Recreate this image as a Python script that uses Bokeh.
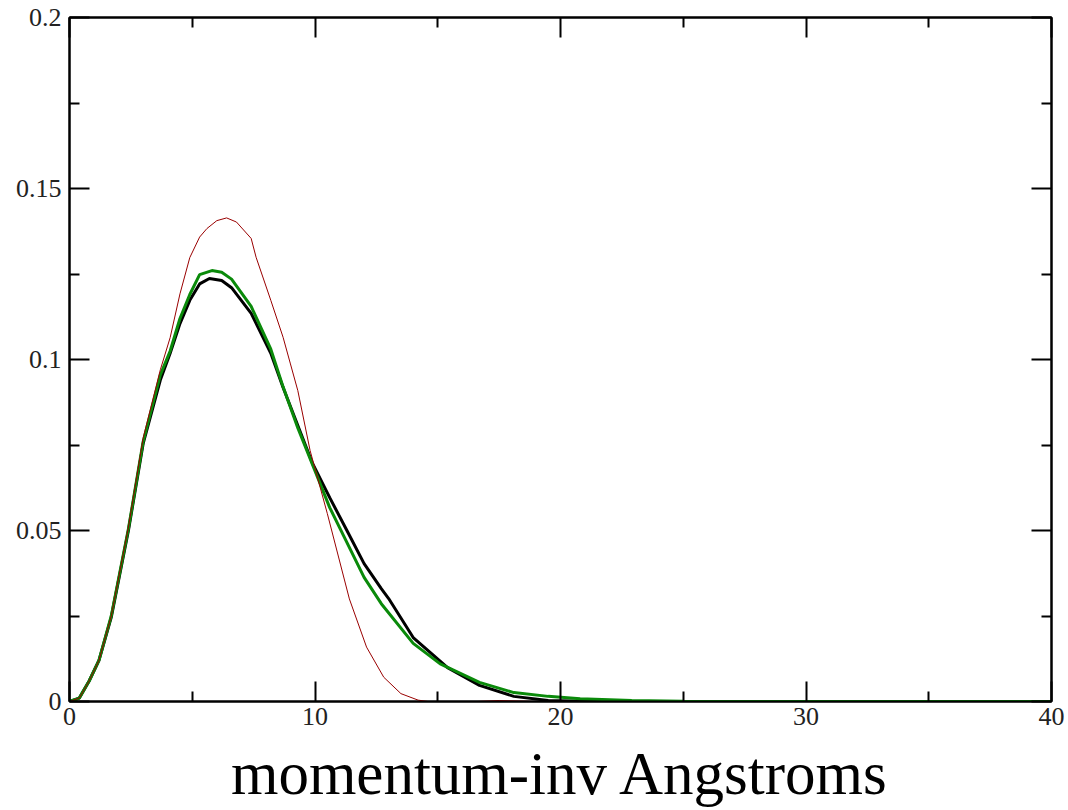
from bokeh.plotting import figure
from bokeh.models import Range1d, FixedTicker, LinearAxis, CustomJSTickFormatter
from bokeh.embed import file_html
from bokeh.resources import INLINE

# ---- data ----
black_x = [0, 0.4, 0.8, 1.2, 1.7, 2.4, 3.0, 3.7, 4.1, 4.5, 4.9, 5.3, 5.7, 6.2, 6.6, 7.4,
           8.2, 8.7, 9.9, 10.6, 11.3, 12.0, 12.7, 13.0, 14.0, 15.4, 16.7, 18.1, 19.5,
           21, 25, 30, 40]
black_y = [0, 0.001, 0.006, 0.012, 0.0246, 0.05, 0.0754, 0.094, 0.1018, 0.1105, 0.1173,
           0.1221, 0.1237, 0.1231, 0.121, 0.1135, 0.1018, 0.0918, 0.0696, 0.0596, 0.05,
           0.0403, 0.033, 0.0301, 0.0187, 0.0099, 0.0047, 0.0015, 0.0003, 0.0001, 0, 0, 0]

green_x = [0, 0.4, 0.8, 1.2, 1.7, 2.4, 3.0, 3.7, 4.1, 4.5, 4.9, 5.3, 5.8, 6.2, 6.6, 7.4,
           8.2, 8.7, 9.3, 10.6, 12.0, 12.7, 14.0, 15.1, 16.7, 18.1, 19.5, 20.8, 22.9,
           25, 30, 40]
green_y = [0, 0.001, 0.006, 0.012, 0.025, 0.0505, 0.076, 0.0955, 0.1025, 0.112, 0.119,
           0.1248, 0.126, 0.1255, 0.1235, 0.1155, 0.103, 0.092, 0.080, 0.0567, 0.0363,
           0.0286, 0.017, 0.011, 0.0056, 0.0026, 0.0015, 0.0008, 0.0003, 0.0001, 0, 0]

red_x = [0, 0.4, 0.8, 1.2, 1.7, 2.4, 3.0, 3.7, 4.1, 4.5, 4.9, 5.3, 5.6, 6.0, 6.4, 6.8,
         7.4, 7.6, 8.2, 8.7, 9.0, 9.3, 9.8, 10.5, 11.4, 12.1, 12.8, 13.5, 14.2, 14.6,
         16.6, 17.5, 18.9, 20, 40]
red_y = [0, 0.001, 0.006, 0.012, 0.025, 0.051, 0.077, 0.097, 0.1064, 0.1192, 0.1298,
         0.1358, 0.1383, 0.1406, 0.1414, 0.1402, 0.1354, 0.1299, 0.1173, 0.1065, 0.0987,
         0.0909, 0.0734, 0.055, 0.030, 0.0159, 0.0071, 0.0023, 0.0004, 0, 0, 0.0003, 0,
         0, 0]

x_ticks = [0, 10, 20, 30, 40]
x_minor = [5, 15, 25, 35]
y_ticks = [0, 0.05, 0.1, 0.15, 0.2]
y_minor = [0.025, 0.075, 0.125, 0.175]
y_tick_labels = {0: "0", 0.05: "0.05", 0.1: "0.1", 0.15: "0.15", 0.2: "0.2"}
x_label = "momentum-inv Angstroms"

FONT = "Liberation Serif"

p = figure(width=1068, height=810, output_backend="svg", toolbar_location=None,
           x_range=Range1d(0, 40), y_range=Range1d(0, 0.2),
           min_border_left=69, min_border_right=17, min_border_top=17, min_border_bottom=109,
           x_axis_location=None, y_axis_location=None)
p.grid.visible = False
p.outline_line_color = "black"
p.outline_line_width = 2
p.background_fill_color = "white"
p.border_fill_color = "white"


def style(ax, labels=True):
    ax.axis_line_width = 2
    ax.axis_line_color = "black"
    ax.major_tick_in = 20
    ax.major_tick_out = 0
    ax.minor_tick_in = 10
    ax.minor_tick_out = 0
    ax.major_tick_line_width = 2
    ax.minor_tick_line_width = 2
    ax.major_tick_line_color = "black"
    ax.minor_tick_line_color = "black"
    ax.major_label_text_font = FONT
    ax.major_label_text_font_size = "26px"
    ax.major_label_text_color = "#222222"
    ax.major_label_standoff = 6 if labels else 0
    if not labels:
        ax.formatter = CustomJSTickFormatter(code="return ''")


xt = FixedTicker(ticks=x_ticks, minor_ticks=x_minor)
yt = FixedTicker(ticks=y_ticks, minor_ticks=y_minor)

bottom = LinearAxis(ticker=xt, axis_label=x_label)
style(bottom)
bottom.axis_label_text_font = FONT
bottom.axis_label_text_font_size = "61px"
bottom.axis_label_text_font_style = "normal"
bottom.axis_label_text_color = "black"
bottom.axis_label_standoff = 12
top = LinearAxis(ticker=xt)
style(top, labels=False)
left = LinearAxis(ticker=yt, major_label_overrides=y_tick_labels)
style(left)
left.major_label_standoff = 8
right = LinearAxis(ticker=yt)
style(right, labels=False)

p.add_layout(bottom, "below")
p.add_layout(top, "above")
p.add_layout(left, "left")
p.add_layout(right, "right")

p.line(black_x, black_y, line_color="black", line_width=3)
p.line(green_x, green_y, line_color="#0a8a0a", line_width=3)
p.line(red_x, red_y, line_color="#990000", line_width=1)

open("out.html", "w").write(file_html(p, INLINE))
